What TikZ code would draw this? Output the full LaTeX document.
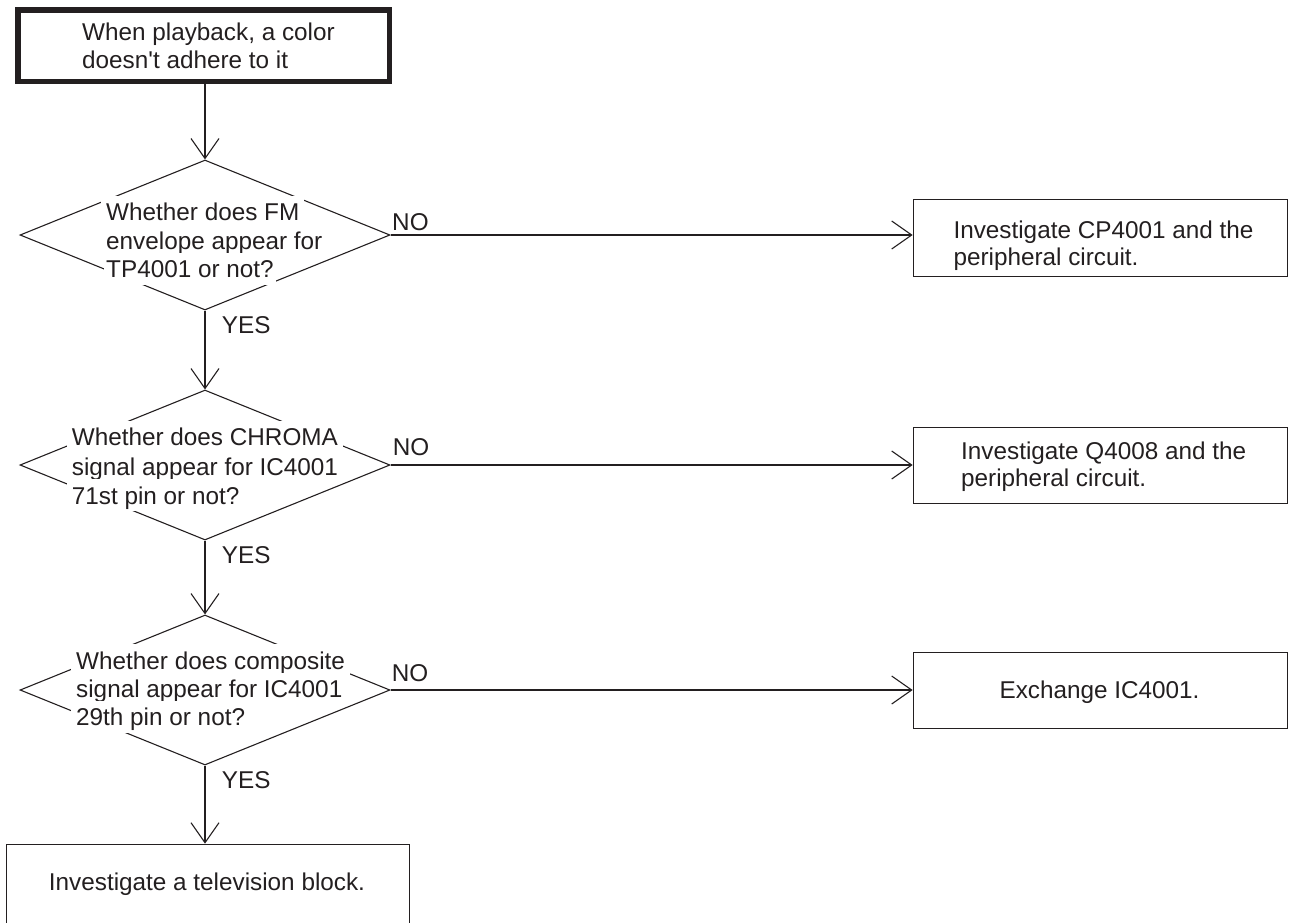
\documentclass[tikz,border=0pt]{standalone}
\usepackage{fontspec}
\setmainfont{Liberation Sans}
\usetikzlibrary{shapes.geometric,arrows.meta}
\definecolor{ink}{RGB}{35,31,32}
\begin{document}
\begin{tikzpicture}[x=1pt,y=-1pt,
  every node/.style={font=\fontsize{24.3}{29}\selectfont, text=ink},
  txt/.style={anchor=base west, inner sep=0pt},
  ctxt/.style={anchor=base, inner sep=0pt},
  dtxt/.style={anchor=base west, fill=white, inner xsep=5pt, inner ysep=3pt, text height=22pt, text depth=4pt},
  dec/.style={draw=ink, shape=diamond, line width=1.1pt, minimum width=370pt, minimum height=150pt, inner sep=0pt},
  boxn/.style={draw=ink, rectangle, line width=1.3pt, inner sep=0pt},
  arr/.style={draw=ink, line width=1.1pt, -{Straight Barb[length=20pt,width=28pt]}},
  lbl/.style={anchor=base west, inner sep=0pt}
]
\useasboundingbox (0,0) rectangle (1289,922);

% start box
\node[boxn, line width=5.5pt, minimum width=371.5pt, minimum height=71.5pt] (tb) at (203.5,45.5) {};
\node[txt] (tb1) at (82,40) {When playback, a color};
\node[txt] (tb2) at (82,68) {doesn\textquotesingle t adhere to it};

% decisions
\node[dec] (d1) at (205,235) {};
\node[dec] (d2) at (205,465) {};
\node[dec] (d3) at (205,690) {};

\node[dtxt] (d1a) at (101,220.7) {Whether does FM};
\node[dtxt] (d1b) at (101,249.3) {envelope appear for};
\node[dtxt, inner xsep=2pt] (d1c) at (104,277.7) {TP4001 or not?};

\node[dtxt] (d2a) at (66.7,445.7) {Whether does CHROMA};
\node[dtxt] (d2b) at (66.7,475) {signal appear for IC4001};
\node[dtxt] (d2c) at (66.7,504) {71st pin or not?};

\node[dtxt] (d3a) at (71,669) {Whether does composite};
\node[dtxt] (d3b) at (71,697.7) {signal appear for IC4001};
\node[dtxt] (d3c) at (71,725.7) {29th pin or not?};

% result boxes
\node[boxn, minimum width=374.4pt, minimum height=77.4pt] (b1) at (1100.5,238) {};
\node[txt] (b1a) at (953.3,238.3) {Investigate CP4001 and the};
\node[txt] (b1b) at (953.3,265) {peripheral circuit.};

\node[boxn, minimum width=374.4pt, minimum height=76pt] (b2) at (1100.5,465.3) {};
\node[txt] (b2a) at (961,459.3) {Investigate Q4008 and the};
\node[txt] (b2b) at (961,486.7) {peripheral circuit.};

\node[boxn, minimum width=374.4pt, minimum height=76pt] (b3) at (1100.5,690.3) {};
\node[ctxt] (b3a) at (1099.5,698.3) {Exchange IC4001.};

\node[boxn, minimum width=402.6pt, minimum height=81pt] (b4) at (208,884.8) {};
\node[ctxt] (b4a) at (207,890.7) {Investigate a television block.};

% connectors
\draw[arr] (tb.south -| d1.north) -- (d1.north);
\draw[arr] (d1.south) -- (d2.north);
\draw[arr] (d2.south) -- (d3.north);
\draw[arr] (d3.south) -- (d3.south |- b4.north);
\draw[arr] (d1.east) -- (d1.east -| b1.west);
\draw[arr] (d2.east) -- (d2.east -| b2.west);
\draw[arr] (d3.east) -- (d3.east -| b3.west);

% labels
\node[lbl] (n1) at (392,230) {NO};
\node[lbl] (n2) at (392.7,455) {NO};
\node[lbl] (n3) at (391.7,681.7) {NO};
\node[lbl] (y1) at (221.7,333.3) {YES};
\node[lbl] (y2) at (221.7,563.3) {YES};
\node[lbl] (y3) at (221.7,788.3) {YES};
\end{tikzpicture}
\end{document}
